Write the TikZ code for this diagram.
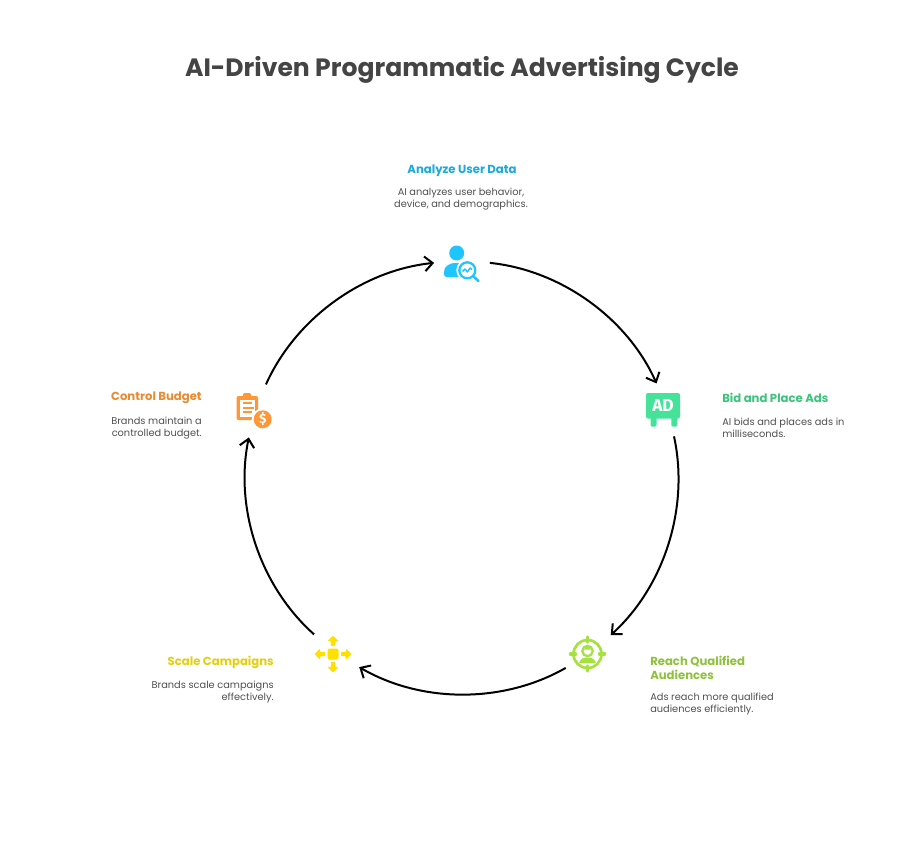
\documentclass[tikz,border=0pt]{standalone}
\usepackage{fontspec}
\setmainfont{Poppins}
\newfontfamily\tagfont{Fira Sans}
\usetikzlibrary{arrows.meta}
\definecolor{titlegray}{HTML}{444444}
\definecolor{bodygray}{HTML}{505050}
\definecolor{analyzetext}{HTML}{1CA9DD}
\definecolor{analyzeicon}{HTML}{1EC5FF}
\definecolor{bidtext}{HTML}{3CC47E}
\definecolor{bidicon}{HTML}{45E29A}
\definecolor{reachtext}{HTML}{8FC23C}
\definecolor{reachicon}{HTML}{A6E23F}
\definecolor{scaletext}{HTML}{E3CF10}
\definecolor{scaleicon}{HTML}{FFE000}
\definecolor{budgettext}{HTML}{E88B33}
\definecolor{budgeticon}{HTML}{FF9738}

\begin{document}
\begin{tikzpicture}[x=0.75pt,y=-0.75pt,>={Straight Barb[length=6pt,width=11pt]}]

        \tikzstyle{stage}=[circle,minimum size=42pt,inner sep=0pt,outer sep=0pt]
        \tikzstyle{flow}=[->,line width=1.5pt,black,bend left=30,looseness=0.89]
        \tikzstyle{heading}=[inner sep=0pt,font=\fontsize{8.75pt}{10.5pt}\selectfont\bfseries]
        \tikzstyle{blurb}=[inner sep=0pt,text=bodygray,font=\fontsize{7.35pt}{9.2pt}\selectfont]

        \useasboundingbox (0,0) rectangle (924,850);
        \fill[white] (0,0) rectangle (924,850);

        \node (title) [text=titlegray,inner sep=0pt,font=\fontsize{18.8pt}{24pt}\selectfont\bfseries] at (462,70) {AI-Driven Programmatic Advertising Cycle};

        \node (analyze) [stage] at (462,260) {};
        \node (bid) [stage] at (668,409) {};
        \node (reach) [stage] at (590,654) {};
        \node (scale) [stage] at (335,653) {};
        \node (budget) [stage] at (254.5,410) {};

        \draw[flow] (analyze) to (bid);
        \draw[flow] (bid) to (reach);
        \draw[flow] (reach) to (scale);
        \draw[flow] (scale) to (budget);
        \draw[flow] (budget) to (analyze);

        % analyze
        \node (analyzehead) [heading,text=analyzetext] at (462,171) {Analyze User Data};
        \node (analyzebody) [blurb,align=center] at (461,199) {AI analyzes user behavior,\\device, and demographics.};
        \begin{scope}[shift={(462,263)}]
        \fill[analyzeicon] (-5.3,-10) circle (7.5);
        \fill[analyzeicon,rounded corners=2pt] (-18,14) -- (-18,9) .. controls (-17,3) and (-11,0) .. (-5,0) .. controls (1,0) and (6,2) .. (8,6) -- (8,14) -- cycle;
        \fill[white] (5.3,7.3) circle (11);
        \draw[analyzeicon,line width=1.7pt] (5.3,7.3) circle (8);
        \draw[analyzeicon,line width=1.9pt,line cap=round] (11.5,13.5) -- (16.5,18);
        \draw[analyzeicon,line width=1.1pt,line join=round] (0.5,8.5) -- (3,6) -- (5.5,9) -- (8,5) -- (10,6.5);
        \end{scope}

        % bid
        \node (bidhead) [heading,text=bidtext,anchor=west] at (722,398) {Bid and Place Ads};
        \node (bidbody) [blurb,align=left,anchor=west] at (722,428) {AI bids and places ads in\\milliseconds.};
        \begin{scope}[shift={(663,409)}]
        \fill[bidicon,rounded corners=1.5pt] (-12.5,5) rectangle (-6.5,17.7);
        \fill[bidicon,rounded corners=1.5pt] (8.3,5) rectangle (14.3,17.7);
        \fill[bidicon,rounded corners=1.5pt] (-17,-16) rectangle (17,9.5);
        \node (adtag) [text=white,inner sep=0pt,font=\fontsize{13pt}{13pt}\tagfont\bfseries] at (0,-3.5) {AD};
        \end{scope}

        % reach
        \node (reachhead) [heading,text=reachtext,align=left,anchor=west] at (650,668) {Reach Qualified\\Audiences};
        \node (reachbody) [blurb,align=left,anchor=west] at (650,704) {Ads reach more qualified\\audiences efficiently.};
        \begin{scope}[shift={(587.5,654)}]
        \draw[reachicon,line width=2pt] (0,0) circle (14);
        \foreach \a in {0,90,180,270} \draw[reachicon,rotate=\a,line width=2.6pt,line cap=round] (12,0) -- (17,0);
        \draw[reachicon,line width=1.7pt] (0,-3) circle (5.2);
        \fill[reachicon] (-3.5,-4.5) .. controls (-2,-8) and (2,-8) .. (3.5,-4.5) -- cycle;
        \fill[reachicon] (-8.5,9) .. controls (-7,4) and (-3,3.5) .. (0,3.5) .. controls (3,3.5) and (7,4) .. (8.5,9) -- cycle;
        \end{scope}

        % scale
        \node (scalehead) [heading,text=scaletext,anchor=east] at (274,662) {Scale Campaigns};
        \node (scalebody) [blurb,align=right,anchor=east] at (274,692) {Brands scale campaigns\\effectively.};
        \begin{scope}[shift={(333,654)}]
        \fill[scaleicon,rounded corners=1.5pt] (-5.5,-5.5) rectangle (5.5,5.5);
        \foreach \a in {0,90,180,270} \fill[scaleicon,rotate=\a,rounded corners=0.6pt] (-2.2,-8) -- (-2.2,-13) -- (-5.5,-13) -- (0,-18.5) -- (5.5,-13) -- (2.2,-13) -- (2.2,-8) -- cycle;
        \end{scope}

        % budget
        \node (budgethead) [heading,text=budgettext,anchor=east] at (202,398) {Control Budget};
        \node (budgetbody) [blurb,align=right,anchor=east] at (202,428) {Brands maintain a\\controlled budget.};
        \begin{scope}[shift={(254,410)}]
        \fill[budgeticon,rounded corners=1.5pt] (-17.5,-14) rectangle (4,10);
        \fill[budgeticon,rounded corners=1pt] (-11,-17) rectangle (-3,-11);
        \fill[white] (-14,-10.5) rectangle (0.5,6.5);
        \fill[budgeticon] (-11.5,-8) rectangle (-2,-6);
        \fill[budgeticon] (-11.5,-3.5) rectangle (0,-1.5);
        \fill[budgeticon] (-11.5,1) rectangle (-2,3);
        \fill[white] (8.7,9.3) circle (11);
        \fill[budgeticon] (8.7,9.3) circle (9);
        \node (dollartag) [text=white,inner sep=0pt,font=\fontsize{10pt}{10pt}\tagfont\bfseries] at (8.7,9.3) {\$};
        \end{scope}
\end{tikzpicture}
\end{document}
